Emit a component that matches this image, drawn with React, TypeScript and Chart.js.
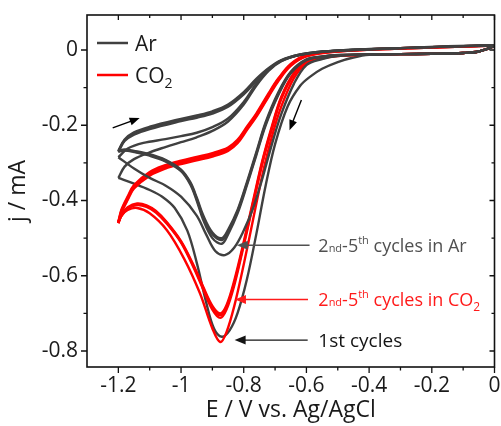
import React, { useEffect, useRef } from 'react';
import { Chart, registerables } from 'chart.js';

Chart.register(...registerables);

type Pt = [number, number];

// Axis extents and tick positions (E in V, j in mA)
const xRange: [number, number] = [-1.3, 0];
const yRange: [number, number] = [-0.8425, 0.093];
const xMajor = [-1.2, -1, -0.8, -0.6, -0.4, -0.2, 0];
const xMinor = [-1.1, -0.9, -0.7, -0.5, -0.3, -0.1];
const yMajor = [0, -0.2, -0.4, -0.6, -0.8];
const yMinor = [-0.1, -0.3, -0.5, -0.7];

// ---- Ar, 1st cycle ----
const ar1Fwd: Pt[] = [
  [0, 0.01], [-0.05, -0.004], [-0.1, -0.008], [-0.2, -0.01], [-0.3, -0.011], [-0.4, -0.013],
  [-0.45, -0.02], [-0.5, -0.032], [-0.55, -0.05], [-0.59, -0.072], [-0.62, -0.095], [-0.66, -0.15],
  [-0.7, -0.25], [-0.73, -0.36], [-0.76, -0.49], [-0.79, -0.61], [-0.82, -0.7], [-0.845, -0.745],
  [-0.87, -0.762], [-0.895, -0.74], [-0.92, -0.67], [-0.95, -0.565], [-0.98, -0.48], [-1.02, -0.42],
  [-1.06, -0.39], [-1.1, -0.372], [-1.15, -0.355], [-1.2, -0.34],
];
const ar1Rev: Pt[] = [
  [-1.2, -0.34], [-1.18, -0.31], [-1.15, -0.29], [-1.1, -0.272], [-1.05, -0.258], [-1.0, -0.245],
  [-0.95, -0.232], [-0.9, -0.215], [-0.85, -0.19], [-0.8, -0.145], [-0.76, -0.095], [-0.72, -0.055],
  [-0.68, -0.03], [-0.62, -0.013], [-0.55, -0.005], [-0.45, 0], [-0.3, 0.004], [-0.15, 0.008], [0, 0.012],
];

// ---- Ar, 2nd cycle ----
const ar2Fwd: Pt[] = [
  [0, 0.01], [-0.05, -0.004], [-0.1, -0.008], [-0.2, -0.01], [-0.3, -0.011], [-0.4, -0.012],
  [-0.5, -0.016], [-0.55, -0.024], [-0.6, -0.04], [-0.64, -0.09], [-0.68, -0.17], [-0.71, -0.25],
  [-0.74, -0.34], [-0.77, -0.42], [-0.8, -0.48], [-0.83, -0.525], [-0.86, -0.545], [-0.89, -0.535],
  [-0.92, -0.49], [-0.95, -0.44], [-1.0, -0.39], [-1.05, -0.36], [-1.1, -0.34], [-1.15, -0.315], [-1.2, -0.285],
];
const ar2Rev: Pt[] = [
  [-1.2, -0.285], [-1.17, -0.262], [-1.12, -0.247], [-1.05, -0.237], [-1.0, -0.229], [-0.95, -0.22],
  [-0.9, -0.205], [-0.85, -0.182], [-0.8, -0.138], [-0.76, -0.09], [-0.72, -0.052], [-0.68, -0.028],
  [-0.62, -0.012], [-0.55, -0.004], [-0.45, 0.001], [-0.3, 0.005], [-0.15, 0.009], [0, 0.012],
];

// ---- Ar, 3rd-5th cycles ----
const ar3Fwd: Pt[] = [
  [0, 0.01], [-0.05, -0.004], [-0.1, -0.008], [-0.2, -0.01], [-0.3, -0.011], [-0.4, -0.012],
  [-0.5, -0.014], [-0.55, -0.018], [-0.6, -0.027], [-0.65, -0.062], [-0.69, -0.12], [-0.73, -0.2],
  [-0.76, -0.28], [-0.79, -0.36], [-0.82, -0.435], [-0.85, -0.49], [-0.87, -0.515], [-0.9, -0.5],
  [-0.93, -0.45], [-0.95, -0.4], [-0.97, -0.358], [-1.0, -0.322], [-1.05, -0.296], [-1.1, -0.281],
  [-1.15, -0.271], [-1.18, -0.267], [-1.2, -0.27],
];
const ar3Rev: Pt[] = [
  [-1.2, -0.27], [-1.18, -0.242], [-1.15, -0.225], [-1.1, -0.21], [-1.0, -0.189], [-0.95, -0.18],
  [-0.9, -0.169], [-0.85, -0.151], [-0.8, -0.118], [-0.76, -0.083], [-0.72, -0.052], [-0.68, -0.029],
  [-0.62, -0.013], [-0.55, -0.005], [-0.45, 0], [-0.3, 0.005], [-0.15, 0.009], [0, 0.013],
];
const ar4Fwd: Pt[] = [
  [0, 0.01], [-0.05, -0.004], [-0.1, -0.008], [-0.2, -0.01], [-0.3, -0.011], [-0.4, -0.012],
  [-0.5, -0.014], [-0.55, -0.018], [-0.6, -0.026], [-0.65, -0.06], [-0.69, -0.117], [-0.73, -0.196],
  [-0.76, -0.276], [-0.79, -0.356], [-0.82, -0.43], [-0.85, -0.482], [-0.87, -0.505], [-0.9, -0.49],
  [-0.93, -0.443], [-0.95, -0.396], [-0.97, -0.355], [-1.0, -0.32], [-1.05, -0.294], [-1.1, -0.279],
  [-1.15, -0.27], [-1.18, -0.266], [-1.2, -0.27],
];
const ar4Rev: Pt[] = [
  [-1.2, -0.27], [-1.18, -0.24], [-1.15, -0.222], [-1.1, -0.207], [-1.0, -0.186], [-0.95, -0.177],
  [-0.9, -0.166], [-0.85, -0.148], [-0.8, -0.115], [-0.76, -0.08], [-0.72, -0.05], [-0.68, -0.028],
  [-0.62, -0.013], [-0.55, -0.005], [-0.45, 0], [-0.3, 0.005], [-0.15, 0.009], [0, 0.013],
];
const ar5Fwd: Pt[] = [
  [0, 0.01], [-0.05, -0.004], [-0.1, -0.008], [-0.2, -0.01], [-0.3, -0.011], [-0.4, -0.012],
  [-0.5, -0.013], [-0.55, -0.017], [-0.6, -0.025], [-0.65, -0.058], [-0.69, -0.113], [-0.73, -0.192],
  [-0.76, -0.272], [-0.79, -0.352], [-0.82, -0.426], [-0.85, -0.478], [-0.87, -0.5], [-0.9, -0.485],
  [-0.93, -0.438], [-0.95, -0.392], [-0.97, -0.352], [-1.0, -0.318], [-1.05, -0.292], [-1.1, -0.277],
  [-1.15, -0.268], [-1.18, -0.264], [-1.2, -0.268],
];
const ar5Rev: Pt[] = [
  [-1.2, -0.268], [-1.18, -0.238], [-1.15, -0.219], [-1.1, -0.204], [-1.0, -0.183], [-0.95, -0.174],
  [-0.9, -0.163], [-0.85, -0.145], [-0.8, -0.112], [-0.76, -0.077], [-0.72, -0.048], [-0.68, -0.027],
  [-0.62, -0.012], [-0.55, -0.004], [-0.45, 0.001], [-0.3, 0.005], [-0.15, 0.01], [0, 0.013],
];

// ---- CO2, 1st cycle ----
const co1Fwd: Pt[] = [
  [0, 0.01], [-0.05, -0.004], [-0.1, -0.008], [-0.2, -0.01], [-0.3, -0.011], [-0.4, -0.012],
  [-0.5, -0.016], [-0.55, -0.022], [-0.6, -0.035], [-0.64, -0.075], [-0.68, -0.15], [-0.71, -0.23],
  [-0.74, -0.33], [-0.77, -0.45], [-0.8, -0.57], [-0.83, -0.68], [-0.855, -0.75], [-0.875, -0.776],
  [-0.9, -0.74], [-0.94, -0.646], [-0.99, -0.555], [-1.045, -0.479], [-1.1, -0.434], [-1.14, -0.42],
  [-1.17, -0.425], [-1.19, -0.44], [-1.2, -0.46],
];
const co1Rev: Pt[] = [
  [-1.2, -0.46], [-1.19, -0.432], [-1.17, -0.398], [-1.15, -0.368], [-1.1, -0.334], [-1.05, -0.315],
  [-1.0, -0.303], [-0.95, -0.293], [-0.9, -0.283], [-0.85, -0.268], [-0.82, -0.248], [-0.79, -0.213],
  [-0.76, -0.178], [-0.72, -0.123], [-0.69, -0.083], [-0.65, -0.042], [-0.6, -0.017], [-0.5, -0.004],
  [-0.3, 0.004], [-0.1, 0.009], [0, 0.012],
];

// ---- CO2, 2nd-5th cycles ----
const co2Fwd: Pt[] = [
  [0, 0.01], [-0.05, -0.004], [-0.1, -0.008], [-0.2, -0.01], [-0.3, -0.011], [-0.4, -0.012],
  [-0.5, -0.015], [-0.55, -0.02], [-0.6, -0.03], [-0.64, -0.065], [-0.68, -0.13], [-0.71, -0.21],
  [-0.74, -0.3], [-0.77, -0.41], [-0.8, -0.52], [-0.83, -0.625], [-0.855, -0.69], [-0.875, -0.712],
  [-0.9, -0.69], [-0.93, -0.635], [-0.96, -0.578], [-1.0, -0.512], [-1.045, -0.462], [-1.08, -0.432],
  [-1.11, -0.417], [-1.14, -0.412], [-1.17, -0.421], [-1.19, -0.441], [-1.2, -0.46],
];
const co2Rev: Pt[] = [
  [-1.2, -0.46], [-1.19, -0.43], [-1.17, -0.395], [-1.15, -0.365], [-1.1, -0.33], [-1.05, -0.312],
  [-1.0, -0.3], [-0.95, -0.29], [-0.9, -0.28], [-0.85, -0.265], [-0.82, -0.245], [-0.79, -0.21],
  [-0.76, -0.175], [-0.72, -0.12], [-0.69, -0.08], [-0.65, -0.04], [-0.6, -0.016], [-0.5, -0.004],
  [-0.3, 0.004], [-0.1, 0.009], [0, 0.012],
];
const co3Fwd: Pt[] = [
  [0, 0.01], [-0.05, -0.004], [-0.1, -0.008], [-0.2, -0.01], [-0.3, -0.011], [-0.4, -0.012],
  [-0.5, -0.015], [-0.55, -0.02], [-0.6, -0.029], [-0.64, -0.063], [-0.68, -0.127], [-0.71, -0.206],
  [-0.74, -0.296], [-0.77, -0.405], [-0.8, -0.515], [-0.83, -0.618], [-0.855, -0.683], [-0.875, -0.705],
  [-0.9, -0.684], [-0.93, -0.631], [-0.96, -0.575], [-1.0, -0.51], [-1.045, -0.46], [-1.08, -0.43],
  [-1.11, -0.415], [-1.14, -0.41], [-1.17, -0.42], [-1.19, -0.44], [-1.2, -0.458],
];
const co3Rev: Pt[] = [
  [-1.2, -0.458], [-1.19, -0.427], [-1.17, -0.392], [-1.15, -0.362], [-1.1, -0.327], [-1.05, -0.309],
  [-1.0, -0.297], [-0.95, -0.287], [-0.9, -0.277], [-0.85, -0.262], [-0.82, -0.242], [-0.79, -0.207],
  [-0.76, -0.172], [-0.72, -0.117], [-0.69, -0.078], [-0.65, -0.039], [-0.6, -0.015], [-0.5, -0.003],
  [-0.3, 0.005], [-0.1, 0.01], [0, 0.012],
];
const co4Fwd: Pt[] = [
  [0, 0.01], [-0.05, -0.004], [-0.1, -0.008], [-0.2, -0.01], [-0.3, -0.011], [-0.4, -0.012],
  [-0.5, -0.014], [-0.55, -0.019], [-0.6, -0.028], [-0.64, -0.061], [-0.68, -0.124], [-0.71, -0.202],
  [-0.74, -0.292], [-0.77, -0.4], [-0.8, -0.51], [-0.83, -0.612], [-0.855, -0.678], [-0.875, -0.7],
  [-0.9, -0.68], [-0.93, -0.628], [-0.96, -0.572], [-1.0, -0.508], [-1.045, -0.458], [-1.08, -0.428],
  [-1.11, -0.413], [-1.14, -0.408], [-1.17, -0.418], [-1.19, -0.438], [-1.2, -0.456],
];
const co4Rev: Pt[] = [
  [-1.2, -0.456], [-1.19, -0.424], [-1.17, -0.389], [-1.15, -0.359], [-1.1, -0.324], [-1.05, -0.306],
  [-1.0, -0.294], [-0.95, -0.284], [-0.9, -0.274], [-0.85, -0.259], [-0.82, -0.239], [-0.79, -0.204],
  [-0.76, -0.169], [-0.72, -0.114], [-0.69, -0.076], [-0.65, -0.037], [-0.6, -0.014], [-0.5, -0.003],
  [-0.3, 0.005], [-0.1, 0.01], [0, 0.012],
];

// Series groups, in drawing order
const arCurves: Pt[][] = [ar3Fwd, ar3Rev, ar4Fwd, ar4Rev, ar5Fwd, ar5Rev, ar2Fwd, ar2Rev];
const coCurves: Pt[][] = [co2Fwd, co2Rev, co3Fwd, co3Rev, co4Fwd, co4Rev, co1Fwd, co1Rev];
const arFirstCurves: Pt[][] = [ar1Fwd, ar1Rev];

// Labelled arrows: [tail E, tip E, j]
const noteArrows: [number, number, number][] = [
  [-0.59, -0.822, -0.519],
  [-0.595, -0.828, -0.663],
  [-0.596, -0.829, -0.771],
];
const noteTextE = -0.562;
// Scan direction arrows: [tail E, tail j, tip E, tip j]
const scanArrows: [number, number, number, number][] = [
  [-1.218, -0.207, -1.132, -0.181],
  [-0.616, -0.133, -0.654, -0.213],
];

const GREY = '#404040';
const RED = '#ff0000';
const FONT = '"Open Sans", "DejaVu Sans", sans-serif';

type Seg = { t: string; size: number; dy?: number };
const noteTexts: { color: string; segs: Seg[] }[] = [
  {
    color: '#505050',
    segs: [
      { t: '2', size: 18 }, { t: 'nd', size: 11 }, { t: '-5', size: 18 },
      { t: 'th', size: 11, dy: -8 }, { t: ' cycles in Ar', size: 18 },
    ],
  },
  {
    color: '#ff1a1a',
    segs: [
      { t: '2', size: 18 }, { t: 'nd', size: 11 }, { t: '-5', size: 18 },
      { t: 'th', size: 11, dy: -8 }, { t: ' cycles in CO', size: 18 }, { t: '2', size: 12, dy: 5 },
    ],
  },
  { color: '#141414', segs: [{ t: '1st cycles', size: 19 }] },
];

function drawSegs(ctx: CanvasRenderingContext2D, x: number, y: number, segs: Seg[]) {
  let cx = x;
  for (const s of segs) {
    ctx.font = `${s.size}px ${FONT}`;
    ctx.fillText(s.t, cx, y + (s.dy || 0));
    cx += ctx.measureText(s.t).width;
  }
}

function arrowHead(ctx: CanvasRenderingContext2D, x0: number, y0: number, x1: number, y1: number, len: number, half: number) {
  const a = Math.atan2(y1 - y0, x1 - x0);
  const bx = x1 - len * Math.cos(a);
  const by = y1 - len * Math.sin(a);
  ctx.beginPath();
  ctx.moveTo(x1, y1);
  ctx.lineTo(bx + half * Math.sin(a), by - half * Math.cos(a));
  ctx.lineTo(bx - half * Math.sin(a), by + half * Math.cos(a));
  ctx.closePath();
  ctx.fill();
}

const decorPlugin = {
  id: 'cvDecor',
  afterDatasetsDraw(chart: any) {
    const { ctx, chartArea: a, scales } = chart;
    const xs = scales.x;
    const ys = scales.y;
    ctx.save();

    // frame
    ctx.strokeStyle = '#111';
    ctx.lineWidth = 1.6;
    ctx.strokeRect(a.left, a.top, a.right - a.left, a.bottom - a.top);

    // ticks: outward on bottom/left, inward on top/right
    ctx.lineWidth = 1.3;
    ctx.beginPath();
    const xt = (v: number, big: boolean) => {
      const p = xs.getPixelForValue(v);
      ctx.moveTo(p, a.bottom);
      ctx.lineTo(p, a.bottom + (big ? 6 : 3.5));
      ctx.moveTo(p, a.top);
      ctx.lineTo(p, a.top + (big ? 5 : 3));
    };
    const yt = (v: number, big: boolean) => {
      const p = ys.getPixelForValue(v);
      ctx.moveTo(a.left - (big ? 6 : 3.5), p);
      ctx.lineTo(a.left, p);
      ctx.moveTo(a.right - (big ? 5 : 3), p);
      ctx.lineTo(a.right, p);
    };
    xMajor.forEach((v) => xt(v, true));
    xMinor.forEach((v) => xt(v, false));
    yMajor.forEach((v) => yt(v, true));
    yMinor.forEach((v) => yt(v, false));
    ctx.stroke();

    // legend
    const lx = a.left + 10;
    const ly1 = a.top + 28;
    const ly2 = a.top + 60;
    ctx.lineWidth = 2.5;
    ctx.strokeStyle = GREY;
    ctx.beginPath();
    ctx.moveTo(lx, ly1);
    ctx.lineTo(lx + 31, ly1);
    ctx.stroke();
    ctx.strokeStyle = RED;
    ctx.beginPath();
    ctx.moveTo(lx, ly2);
    ctx.lineTo(lx + 31, ly2);
    ctx.stroke();
    ctx.fillStyle = '#1a1a1a';
    ctx.textBaseline = 'alphabetic';
    drawSegs(ctx, lx + 38, ly1 + 8, [{ t: 'Ar', size: 21 }]);
    drawSegs(ctx, lx + 38, ly2 + 8, [{ t: 'CO', size: 21 }, { t: '2', size: 14, dy: 5 }]);

    // labelled arrows and their notes
    noteArrows.forEach(([e0, e1, j], i) => {
      const color = noteTexts[i].color;
      const x0 = xs.getPixelForValue(e0);
      const x1 = xs.getPixelForValue(e1);
      const y = ys.getPixelForValue(j);
      ctx.strokeStyle = color;
      ctx.fillStyle = color;
      ctx.lineWidth = 1.4;
      ctx.beginPath();
      ctx.moveTo(x0, y);
      ctx.lineTo(x1 + 8, y);
      ctx.stroke();
      arrowHead(ctx, x0, y, x1, y, 11, 4.5);
      drawSegs(ctx, xs.getPixelForValue(noteTextE), y + 7, noteTexts[i].segs);
    });

    // scan direction arrows
    ctx.strokeStyle = '#000';
    ctx.fillStyle = '#000';
    scanArrows.forEach(([e0, j0, e1, j1]) => {
      const x0 = xs.getPixelForValue(e0);
      const y0 = ys.getPixelForValue(j0);
      const x1 = xs.getPixelForValue(e1);
      const y1 = ys.getPixelForValue(j1);
      const ang = Math.atan2(y1 - y0, x1 - x0);
      ctx.lineWidth = 1.4;
      ctx.beginPath();
      ctx.moveTo(x0, y0);
      ctx.lineTo(x1 - 6 * Math.cos(ang), y1 - 6 * Math.sin(ang));
      ctx.stroke();
      arrowHead(ctx, x0, y0, x1, y1, 10, 4);
    });

    ctx.restore();
  },
};

function toSet(pts: Pt[], color: string) {
  return {
    data: pts.map(([x, y]) => ({ x, y })),
    borderColor: color,
    backgroundColor: color,
    borderWidth: 2.4,
    pointRadius: 0,
    showLine: true,
    fill: false,
    tension: 0.35,
  };
}

const fmt = (v: number) => String(Math.round(v * 10) / 10);

// keep the plot box exactly where the layout padding puts it
const noScalePadding = (s: any) => {
  s.paddingTop = 0;
  s.paddingBottom = 0;
  s.paddingLeft = 0;
  s.paddingRight = 0;
};

export default function App() {
  const ref = useRef<HTMLCanvasElement>(null);

  useEffect(() => {
    if (!ref.current) return;
    const datasets = [
      ...arCurves.map((c) => toSet(c, GREY)),
      ...coCurves.map((c) => toSet(c, RED)),
      ...arFirstCurves.map((c) => toSet(c, GREY)),
    ];
    const chart = new Chart(ref.current, {
      type: 'scatter',
      data: { datasets },
      options: {
        animation: false,
        responsive: false,
        devicePixelRatio: 1,
        layout: { padding: { left: 0, right: 6.5, top: 15, bottom: 0 } },
        plugins: { legend: { display: false }, tooltip: { enabled: false } },
        scales: {
          x: {
            type: 'linear',
            min: xRange[0],
            max: xRange[1],
            afterBuildTicks: (s: any) => {
              s.ticks = xMajor.map((v) => ({ value: v }));
            },
            afterFit: (s: any) => {
              s.height = 59;
              noScalePadding(s);
            },
            grid: { display: false, drawTicks: false },
            border: { display: false },
            ticks: {
              autoSkip: false,
              maxRotation: 0,
              padding: 6,
              color: '#1a1a1a',
              font: { family: FONT, size: 21 },
              callback: (v: any) => fmt(Number(v)),
            },
            title: {
              display: true,
              text: 'E / V vs. Ag/AgCl',
              color: '#1a1a1a',
              font: { family: FONT, size: 23 },
              padding: { top: 0, bottom: 2 },
            },
          },
          y: {
            type: 'linear',
            min: yRange[0],
            max: yRange[1],
            afterBuildTicks: (s: any) => {
              s.ticks = yMajor.map((v) => ({ value: v }));
            },
            afterFit: (s: any) => {
              s.width = 87;
              noScalePadding(s);
            },
            grid: { display: false, drawTicks: false },
            border: { display: false },
            ticks: {
              autoSkip: false,
              padding: 9,
              color: '#1a1a1a',
              font: { family: FONT, size: 21 },
              callback: (v: any) => fmt(Number(v)),
            },
            title: {
              display: true,
              text: 'j / mA',
              color: '#1a1a1a',
              font: { family: FONT, size: 23 },
              padding: { top: 5, bottom: 0 },
            },
          },
        },
      },
      plugins: [decorPlugin],
    } as any);
    return () => chart.destroy();
  }, []);

  return (
    <div style={{ position: 'fixed', left: 0, top: 0, width: 501, height: 426, background: '#fff' }}>
      <canvas ref={ref} width={501} height={426} style={{ width: 501, height: 426 }} />
    </div>
  );
}
